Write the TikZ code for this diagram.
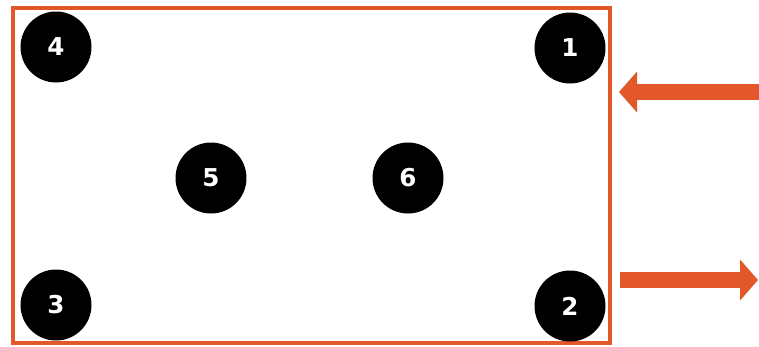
\documentclass[tikz,border=0pt]{standalone}
\usepackage{fontspec}
\setmainfont{DejaVu Sans}
\usetikzlibrary{arrows.meta}
\definecolor{rust}{HTML}{E2582B}

\begin{document}
\begin{tikzpicture}[
  x=0.02cm, y=-0.02cm,
  frame/.style={draw=rust, line width=0.09cm, rectangle,
                minimum width=11.94cm, minimum height=6.7cm, inner sep=0pt},
  spot/.style={circle, fill=black, minimum size=1.42cm, inner sep=0pt,
               text=white, font=\fontsize{14}{16}\selectfont\bfseries},
  flow/.style={draw=rust, line width=0.31cm,
               -{Triangle[length=0.36cm, width=0.8cm]}}
]
  \useasboundingbox (0,0) rectangle (759,346);
  \node[frame] (box) at (311.5,175.5) {};
  \node[spot] (p1) at (570,48)  {1};
  \node[spot] (p2) at (570,306) {2};
  \node[spot] (p3) at (56,305)  {3};
  \node[spot] (p4) at (56,47)   {4};
  \node[spot] (p5) at (211,178) {5};
  \node[spot] (p6) at (408,178) {6};
  % in / out
  \coordinate (inS)  at (760,92);
  \coordinate (inE)  at (619,92);
  \coordinate (outS) at (620,280);
  \coordinate (outE) at (758,280);
  \draw[flow] (inS) -- (inE);
  \draw[flow] (outS) -- (outE);
\end{tikzpicture}
\end{document}
